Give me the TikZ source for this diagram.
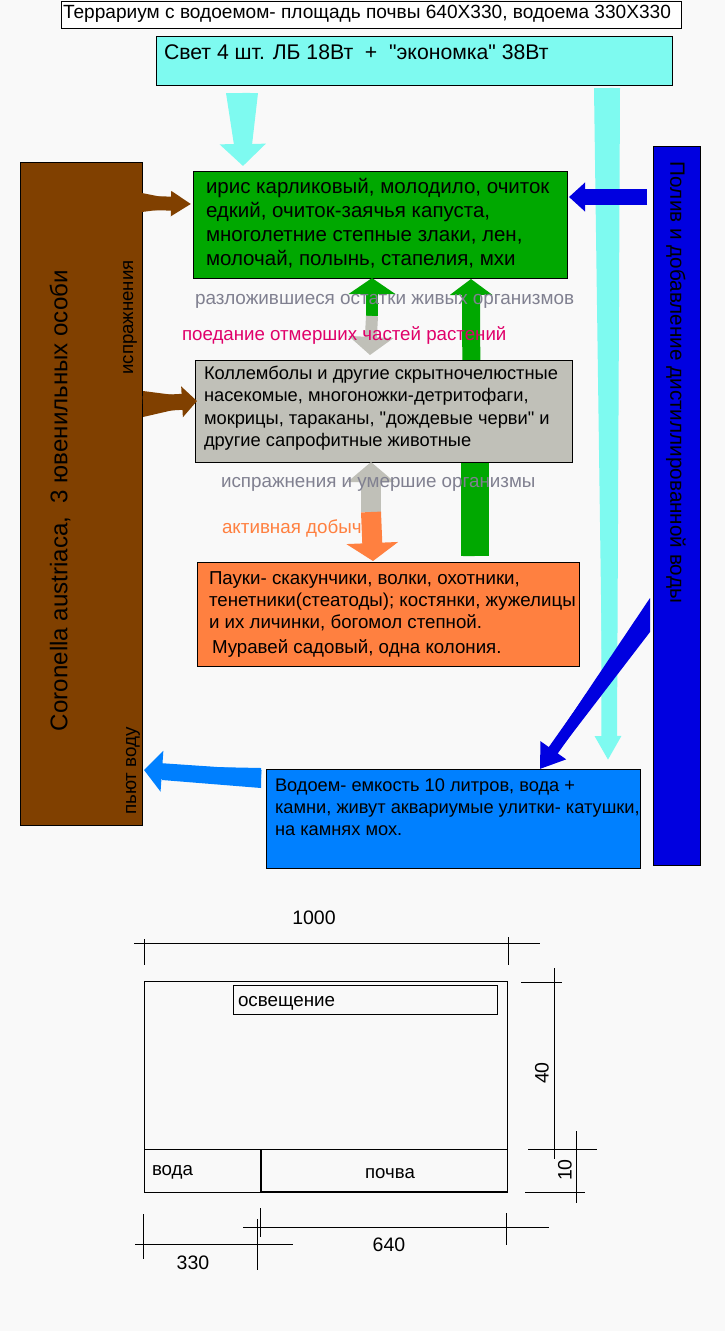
\documentclass[tikz,border=0pt]{standalone}
\usepackage{fontspec}
\setmainfont{Liberation Sans}[Ligatures=TeXOff]
\usetikzlibrary{arrows.meta,calc}
\definecolor{bgc}{RGB}{249,249,249}
\definecolor{lightc}{RGB}{126,250,240}
\definecolor{plantc}{RGB}{0,168,0}
\definecolor{grayc}{RGB}{192,192,184}
\definecolor{orangec}{RGB}{255,128,64}
\definecolor{waterc}{RGB}{0,128,255}
\definecolor{bluec}{RGB}{0,0,224}
\definecolor{brownc}{RGB}{128,64,0}
\definecolor{graytxt}{RGB}{128,128,144}
\definecolor{pinktxt}{RGB}{224,0,106}
\tikzset{
  box/.style={draw=black,line width=1pt,anchor=north west,inner sep=0pt,outer sep=0pt},
  txt/.style={inner sep=0pt,outer sep=0pt,anchor=north west,align=left,text=black,font=\fontsize{17.6}{23}\selectfont},
  lbl/.style={inner sep=0pt,outer sep=0pt,anchor=base west,font=\fontsize{18.8}{22}\selectfont},
  dimtxt/.style={inner sep=0pt,outer sep=0pt,font=\fontsize{19.5}{22}\selectfont},
  thinl/.style={draw=black,line width=1pt},
  conn/.style={line cap=butt,line join=miter},
}
\begin{document}
\begin{tikzpicture}[x=1pt,y=-1pt]
\fill[bgc] (0,0) rectangle (725,1331);
\useasboundingbox (0,0) rectangle (725,1331);
% boxes
\node[box,fill=white,minimum width=620pt,minimum height=27pt] (title) at (61,1) {};
\node[box,fill=lightc,minimum width=516pt,minimum height=49pt] (light) at (156,36) {};
\node[box,fill=brownc,minimum width=122pt,minimum height=663pt] (snake) at (20,162) {};
\node[box,fill=bluec,minimum width=47pt,minimum height=719pt] (irrig) at (653,146) {};
% named free ends
\coordinate (lA) at (242,93);
\coordinate (lB) at (607,88);
\coordinate (lBend) at (608,760);
\coordinate (g1mid) at (372,316);
\coordinate (g2mid) at (472,556);
\coordinate (o1mid) at (371,512);
\coordinate (br1) at (142,203);
\coordinate (br2) at (143,404);
\coordinate (bl1) at (647,197);
\coordinate (bl2) at (627,646);
\coordinate (bl2end) at (540,769);
\coordinate (wa) at (261,778);
\coordinate (waend) at (144,770);
% light arrows
\fill[lightc] (226,93) -- (258,93) -- (252,145) -- (234,145) -- cycle;
\fill[lightc] (594,88) -- (620,88) -- (617,740) -- (603,740) -- cycle;
\draw[conn,lightc,line width=16pt,-{Triangle[length=22pt,width=45pt]}] (lA) -- (243,166);
\draw[conn,lightc,line width=13pt,-{Triangle[length=24pt,width=25pt]}] (lB) -- (lBend);
% plants / green arrows
\node[box,fill=plantc,minimum width=374pt,minimum height=107pt] (plants) at (193,171) {};
\draw[conn,plantc,line width=12pt,-{Triangle[length=16pt,width=46pt]}] (g1mid) -- (g1mid |- plants.south);
\draw[conn,plantc,line width=18pt,-{Triangle[length=16pt,width=42pt]}] (g2mid) -- (471,279);
\fill[plantc] (461,462) rectangle (489,556);
% gray / orange double arrows
\draw[conn,grayc,line width=12pt,-{Triangle[length=18pt,width=44pt]}] (g1mid) -- (370,355);
\node[box,fill=grayc,minimum width=377pt,minimum height=102pt] (detr) at (195,360) {};
\draw[conn,grayc,line width=20pt,-{Triangle[length=20pt,width=46pt]}] (o1mid) -- (o1mid |- detr.south);
\node[box,fill=orangec,minimum width=382pt,minimum height=104pt] (pred) at (197,562) {};
\draw[conn,orangec,line width=20pt,-{Triangle[length=18pt,width=51pt]}] (o1mid) -- (373,561);
% labels over the arrows
\node[lbl,font=\fontsize{18.9}{22}\selectfont,text=graytxt] (l1) at (195,304) {разложившиеся остатки живых организмов};
\node[lbl,text=graytxt] (l3) at (221,487) {испражнения и умершие организмы};
\node[lbl,text=orangec] (l4) at (222,533) {активная добыча};
\node[lbl,font=\fontsize{18.7}{22}\selectfont,text=pinktxt] (l2) at (182,340) {поедание отмерших частей растений};
% water box
\node[box,fill=waterc,minimum width=374pt,minimum height=99pt] (water) at (266,769) {};
% other arrows
\draw[conn,brownc,line width=14pt,-{Triangle[length=20pt,width=24pt]}] (br1) -- (191,204);
\fill[brownc] (142,193) -- (172,199) -- (172,208) -- (142,212) -- cycle;
\draw[conn,brownc,line width=16pt,-{Triangle[length=15pt,width=30pt]}] (br2) -- (197,401);
\fill[brownc] (143,391) -- (182,396) -- (182,408) -- (143,417) -- cycle;
\draw[conn,bluec,line width=16pt,-{Triangle[length=16pt,width=28pt]}] (bl1) -- ($(plants.east |- bl1)+(2,0)$);
\draw[conn,waterc,line width=16pt,-{Triangle[length=18pt,width=40pt]}] (wa) -- (waend);
\fill[waterc] (261,768) -- (162,766) -- (162,780) -- (261,788) -- cycle;
\fill[bluec] (650,598) -- (650,632) -- (558,752) -- (550,747) -- cycle;
\draw[conn,bluec,line width=11pt,-{Triangle[length=23pt,width=30pt]}] (bl2) -- (bl2end);
% texts
\node[txt,font=\fontsize{19.1}{22}\selectfont] (t0) at (63,5.5) {Террариум с водоемом- площадь почвы 640Х330, водоема 330Х330};
\node[txt,font=\fontsize{21.2}{24}\selectfont] (t1) at (164,44.5) {Свет 4 шт. ЛБ 18Вт\ \ +\ \ "экономка" 38Вт};
\node[txt,font=\fontsize{20.5}{24}\selectfont] (t2) at (206,178) {ирис карликовый, молодило, очиток\\едкий, очиток-заячья капуста,\\многолетние степные злаки, лен,\\молочай, полынь, стапелия, мхи};
\node[txt,font=\fontsize{18.3}{22.3}\selectfont] (t3) at (204,366) {Коллемболы и другие скрытночелюстные\\насекомые, многоножки-детритофаги,\\мокрицы, тараканы, "дождевые черви" и\\другие сапрофитные животные};
\node[txt,font=\fontsize{18.7}{22}\selectfont] (t4) at (209,572) {Пауки- скакунчики, волки, охотники,\\тенетники(стеатоды); костянки, жужелицы\\и их личинки, богомол степной.};
\node[txt,font=\fontsize{18.7}{22}\selectfont] (t5) at (212,640) {Муравей садовый, одна колония.};
\node[txt,font=\fontsize{18.25}{22}\selectfont] (t6) at (275,779) {Водоем- емкость 10 литров, вода +\\камни, живут аквариумые улитки- катушки,\\на камнях мох.};
\node[rotate=90,inner sep=0pt,font=\fontsize{24.1}{28}\selectfont] (t7) at (60,500.5) {Coronella austriaca,\ \ 3 ювенильных особи};
\node[rotate=90,inner sep=0pt,font=\fontsize{18.6}{22}\selectfont] (t8) at (130,317.5) {испражнения};
\node[rotate=90,inner sep=0pt,font=\fontsize{18.8}{22}\selectfont] (t9) at (133,771) {пьют воду};
\node[rotate=-90,inner sep=0pt,font=\fontsize{20.7}{24}\selectfont] (t10) at (676,382.5) {Полив и добавление дистиллированной воды};
% lower plan
\node[box,minimum width=363pt,minimum height=211pt] (tank) at (144,981) {};
\node[box,minimum width=264pt,minimum height=29pt] (lamp) at (233,985) {};
\node[txt,font=\fontsize{18.8}{22}\selectfont,anchor=west] (tl) at (238,1003) {освещение};
\coordinate (wsplit) at (261,1149);
\draw[thinl] (tank.west |- wsplit) -- (tank.east |- wsplit);
\draw[black,line width=2pt] (wsplit) -- (wsplit |- tank.south);
\draw[black,line width=2pt] (wsplit |- tank.south) -- (tank.south east);
\node[txt,font=\fontsize{18.7}{22}\selectfont,anchor=west] (tw) at (152,1172) {вода};
\node[dimtxt,font=\fontsize{18.6}{22}\selectfont] (ts) at (390,1174) {почва};
% dimensions
\coordinate (d1a) at (134,943); \coordinate (d1b) at (540,943);
\coordinate (d1c) at (144,939); \coordinate (d1d) at (144,965);
\coordinate (d1e) at (508,937); \coordinate (d1f) at (508,965);
\draw[thinl] (d1a) -- (d1b); \draw[thinl] (d1c) -- (d1d); \draw[thinl] (d1e) -- (d1f);
\node[dimtxt] (n1000) at (314,918) {1000};
\coordinate (d2a) at (554.5,968); \coordinate (d2b) at (554.5,1159);
\coordinate (d2c) at (521,982); \coordinate (d2d) at (562,982);
\coordinate (d2e) at (528,1149); \coordinate (d2f) at (597,1149);
\coordinate (d2g) at (576,1131); \coordinate (d2h) at (576,1203);
\coordinate (d2i) at (525,1192); \coordinate (d2j) at (585,1192);
\draw[thinl] (d2a) -- (d2b); \draw[thinl] (d2c) -- (d2d); \draw[thinl] (d2e) -- (d2f);
\draw[thinl] (d2g) -- (d2h); \draw[thinl] (d2i) -- (d2j);
\node[dimtxt,rotate=90] (n40) at (542,1073) {40};
\node[dimtxt,rotate=90] (n10) at (565,1170) {10};
\coordinate (d3a) at (243,1227); \coordinate (d3b) at (549,1227);
\coordinate (d3c) at (260,1208); \coordinate (d3d) at (260,1237);
\coordinate (d3e) at (506.5,1213); \coordinate (d3f) at (506.5,1245);
\draw[thinl] (d3a) -- (d3b); \draw[thinl] (d3c) -- (d3d); \draw[thinl] (d3e) -- (d3f);
\node[dimtxt] (n640) at (389,1245) {640};
\coordinate (d4a) at (135,1244.5); \coordinate (d4b) at (293,1244.5);
\coordinate (d4c) at (143,1214); \coordinate (d4d) at (143,1259);
\coordinate (d4e) at (257,1219); \coordinate (d4f) at (257,1270);
\draw[thinl] (d4a) -- (d4b); \draw[thinl] (d4c) -- (d4d); \draw[thinl] (d4e) -- (d4f);
\node[dimtxt] (n330) at (193,1263) {330};
\end{tikzpicture}
\end{document}
